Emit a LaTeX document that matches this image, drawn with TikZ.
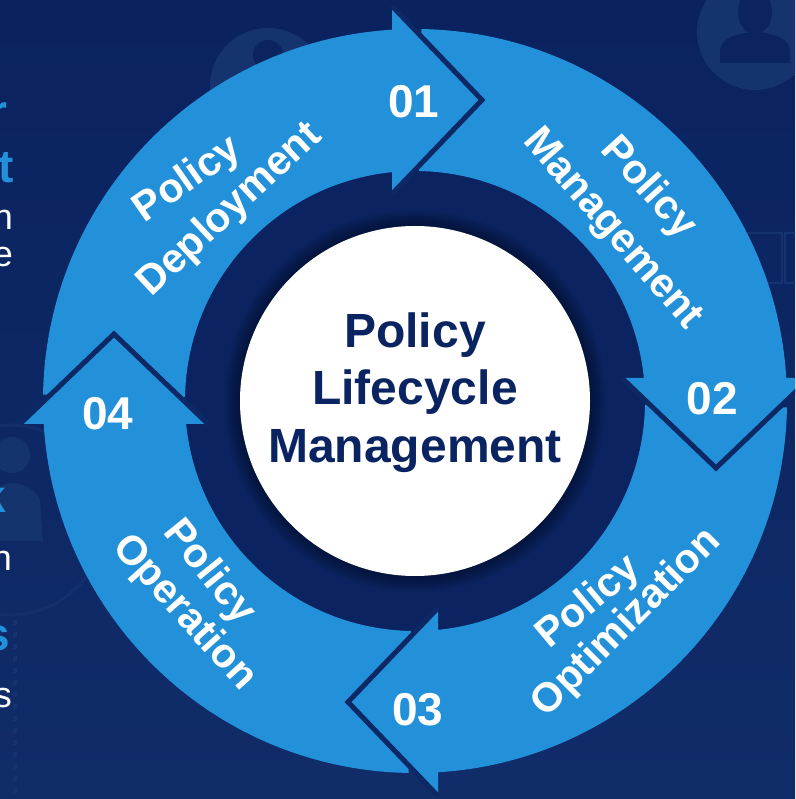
\documentclass[tikz,border=0pt]{standalone}
\usepackage{fontspec}
\setmainfont{Liberation Sans}
\definecolor{bgtop}{HTML}{0A2260}
\definecolor{bgbot}{HTML}{102C69}
\definecolor{innernavy}{HTML}{0B2461}
\definecolor{arrowblue}{HTML}{2391DA}
\definecolor{edgenavy}{HTML}{0C2966}
\definecolor{textnavy}{HTML}{0A2462}
\definecolor{faint}{HTML}{15336F}
\definecolor{faintdark}{HTML}{0B2460}
\begin{document}
\begin{tikzpicture}[x=1pt,y=1pt,
  body/.style={fill=arrowblue},
  headfill/.style={fill=arrowblue},
  headedge/.style={draw=edgenavy,line width=5pt,line join=miter},
  lbl/.style={text=white,font=\fontsize{41}{45}\selectfont\bfseries,inner sep=0pt},
  num/.style={text=white,font=\fontsize{46}{50}\selectfont\bfseries,inner sep=0pt,anchor=base},
  ctext/.style={text=textnavy,font=\fontsize{48}{56}\selectfont\bfseries,inner sep=0pt,anchor=base},
  fragblue/.style={text=arrowblue,font=\fontsize{46}{50}\selectfont\bfseries,inner sep=0pt,anchor=base east},
  fragwhite/.style={text=white,font=\fontsize{36}{40}\selectfont,inner sep=0pt,anchor=base east},
  faintline/.style={draw=faint,line width=3pt},
]
\useasboundingbox (-415,-398) rectangle (380,401);
\clip (-415,-398) rectangle (380,401);
% background
\shade[top color=bgtop,bottom color=bgbot] (-415,-398) rectangle (380,401);
% faint background icons
\fill[faint] (340,369) circle (58pt);
\fill[faintdark] (340,389) ellipse (17pt and 22pt);
\fill[faintdark] (305,338) -- (305,350) .. controls (305,362) and (320,366) .. (330,368) -- (350,368) .. controls (360,366) and (375,362) .. (375,350) -- (375,338) -- cycle;
\fill[faint] (-147,315) circle (58pt);
\fill[faintdark] (-147,346) circle (15pt);
\draw[faintline,opacity=0.7] (-405,-119) circle (95pt);
\fill[faint] (-403,-54) circle (18pt);
\fill[faint] (-415,-140) -- (-415,-85) .. controls (-400,-78) and (-380,-85) .. (-375,-100) -- (-372,-140) -- cycle;
\draw[faint,line width=4pt,dash pattern=on 5pt off 7pt] (-400,-219) -- (-400,-398);
\draw[faint,line width=2pt] (-228,1) rectangle (-188,38) (-188,1) rectangle (-170,38);
\draw[faint,line width=2pt] (332,118) rectangle (367,168) (370,118) rectangle (390,168);
% inner dark disc, shadow, white disc
\fill[innernavy] (0,0) circle (232pt);
\foreach \r in {191,189,...,175} \fill[black,opacity=0.05] (0,0) circle (\r pt);
\fill[white] (0,0) circle (175pt);
% arrow bodies
\foreach \a/\b in {179/92, 89/2, -1/-88, -91/-178}
  \fill[body] (\a:372) arc[start angle=\a, end angle=\b, radius=372pt]
     -- (\b:230) arc[start angle=\b, end angle=\a, radius=230pt] -- cycle;
% arrow heads
\foreach \k in {0,1,2,3}{
  \begin{scope}[rotate=-90*\k]
    \fill[headfill] (-23,395) -- (67,301) -- (-23,207) -- cycle;
    \draw[headedge] (-23,395) -- (67,301) -- (-23,207);
  \end{scope}
}
% labels on arrows
\node[lbl, rotate=35] (pd1) at (-227,221) {Policy};
\node[lbl, rotate=43] (pd2) at (-185,191) {Deployment};
\node[lbl, rotate=-48] (pm1) at (233,213) {Policy};
\node[lbl, rotate=-49] (pm2) at (197,171) {Management};
\node[lbl, rotate=40] (po1) at (174,-202) {Policy};
\node[lbl, rotate=45] (po2) at (212,-222) {Optimization};
\node[lbl, rotate=-51] (pp1) at (-206,-172) {Policy};
\node[lbl, rotate=-48] (pp2) at (-231,-212) {Operation};
% numbers
\node[num] (n1) at (-1,283) {01};
\node[num] (n2) at (297,-14) {02};
\node[num] (n3) at (3,-324) {03};
\node[num] (n4) at (-307,-29) {04};
% centre title
\node[ctext] (c1) at (0,53) {Policy};
\node[ctext] (c2) at (0,-4) {Lifecycle};
\node[ctext] (c3) at (0,-62) {Management};
% cropped text fragments at the left edge
\node[fragblue] (f1) at (-407,273) {r};
\node[fragblue] (f2) at (-401,218) {t};
\node[fragwhite] (f3) at (-402,171) {n};
\node[fragwhite] (f4) at (-402,134) {e};
\node[fragblue] (f5) at (-409,-112) {k};
\node[fragwhite] (f6) at (-403,-169) {n};
\node[fragblue] (f7) at (-405,-249) {s};
\node[fragwhite] (f8) at (-403,-306) {s};
\end{tikzpicture}
\end{document}
